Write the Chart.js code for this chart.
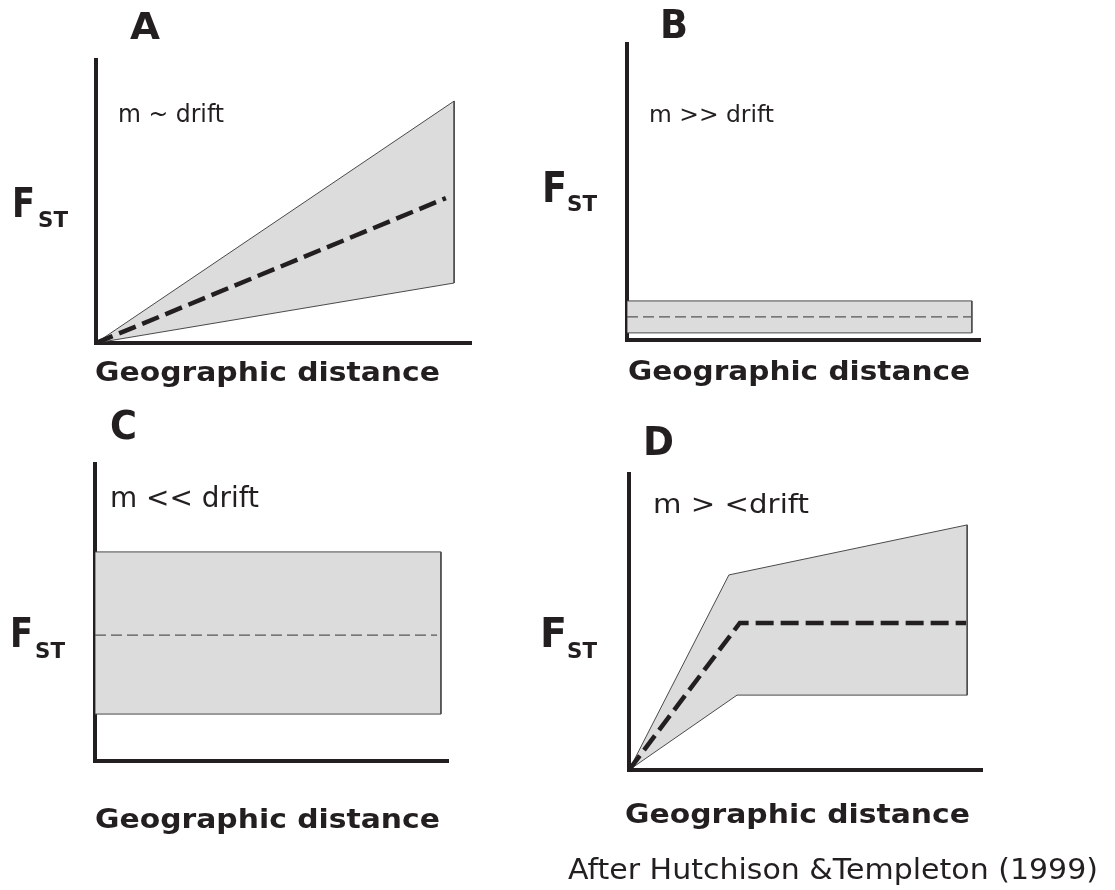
<!DOCTYPE html>
<html>
<head>
<meta charset="utf-8">
<script src="https://cdn.jsdelivr.net/npm/chart.js@4.4.1/dist/chart.umd.min.js"></script>
<style>
  html, body { margin: 0; padding: 0; background: #ffffff; }
  body { width: 1115px; height: 890px; position: relative; overflow: hidden; }
  canvas { position: absolute; left: 0; top: 0; }
  .lbl { position: absolute; white-space: nowrap; color: #231f20; transform-origin: 0 0; font-family: "DejaVu Sans", Verdana, sans-serif; }
</style>
</head>
<body>
<canvas id="cA" width="1115" height="890"></canvas>
<canvas id="cB" width="1115" height="890"></canvas>
<canvas id="cC" width="1115" height="890"></canvas>
<canvas id="cD" width="1115" height="890"></canvas>
<script>
// ---------- DATA (arbitrary units, 0-10 on both axes) ----------
const panelLetters = ['A', 'B', 'C', 'D'];
const conditions = ['m ~ drift', 'm >> drift', 'm << drift', 'm > <drift'];
const xAxisTitle = 'Geographic distance';
const yAxisTitle = ['F', 'ST'];
const credit = 'After Hutchison &Templeton (1999)';

// Panel A: m ~ drift
const A_upperDistance = [0, 9.55];
const A_upper         = [0, 8.55];
const A_lowerDistance = [0, 9.55];
const A_lower         = [0, 2.12];
const A_meanDistance  = [0, 9.33];
const A_mean          = [0, 5.12];

// Panel B: m >> drift
const B_upperDistance = [0, 9.77];
const B_upper         = [1.32, 1.32];
const B_lowerDistance = [0, 9.77];
const B_lower         = [0.24, 0.24];
const B_meanDistance  = [0, 9.77];
const B_mean          = [0.78, 0.78];

// Panel C: m << drift
const C_upperDistance = [0, 9.80];
const C_upper         = [7.04, 7.04];
const C_lowerDistance = [0, 9.80];
const C_lower         = [1.58, 1.58];
const C_meanDistance  = [0, 9.69];
const C_mean          = [4.24, 4.24];

// Panel D: m > < drift
const D_upperDistance = [0, 2.83, 9.58];
const D_upper         = [0, 6.59, 8.28];
const D_lowerDistance = [0, 3.06, 9.58];
const D_lower         = [0, 2.53, 2.53];
const D_meanDistance  = [0, 3.14, 9.55];
const D_mean          = [0, 4.97, 4.97];

// ---------- LAYOUT ----------
const PAGE_W = 1115, PAGE_H = 890;
const INK = '#231f20';

const panels = [
  { id: 'cA', area: { left: 96,  top: 60,  right: 471, bottom: 343 },
    ux: A_upperDistance, uy: A_upper, lx: A_lowerDistance, ly: A_lower, mx: A_meanDistance, my: A_mean, thick: true },
  { id: 'cB', area: { left: 627, top: 44,  right: 980, bottom: 340 },
    ux: B_upperDistance, uy: B_upper, lx: B_lowerDistance, ly: B_lower, mx: B_meanDistance, my: B_mean, thick: false },
  { id: 'cC', area: { left: 95,  top: 464, right: 448, bottom: 761 },
    ux: C_upperDistance, uy: C_upper, lx: C_lowerDistance, ly: C_lower, mx: C_meanDistance, my: C_mean, thick: false },
  { id: 'cD', area: { left: 629, top: 474, right: 982, bottom: 770 },
    ux: D_upperDistance, uy: D_upper, lx: D_lowerDistance, ly: D_lower, mx: D_meanDistance, my: D_mean, thick: true }
];

function zipPts(xs, ys) { return xs.map((x, i) => ({ x: x, y: ys[i] })); }

function axisOpts() {
  return {
    type: 'linear', min: 0, max: 10, z: 1,
    grid: { display: false, drawTicks: false },
    ticks: { display: false },
    border: { display: true, width: 4, color: INK }
  };
}

panels.forEach(p => {
  const upperPts = zipPts(p.ux, p.uy);
  const lowerPts = zipPts(p.lx, p.ly).reverse();
  const polygon = upperPts.concat(lowerPts, [upperPts[0]]);
  const meanPts = zipPts(p.mx, p.my);
  new Chart(document.getElementById(p.id), {
    type: 'line',
    data: {
      datasets: [
        {
          label: 'range', data: polygon, fill: 'shape',
          backgroundColor: '#dcdcdc', borderColor: '#4a4a4a', borderWidth: 1,
          pointRadius: 0, tension: 0, order: 2
        },
        {
          label: 'mean', data: meanPts, fill: false,
          borderColor: p.thick ? INK : '#555555',
          borderWidth: p.thick ? 4.5 : 1.2,
          borderDash: p.thick ? [18, 7] : [11, 5],
          borderCapStyle: 'butt',
          pointRadius: 0, tension: 0, order: 1
        }
      ]
    },
    options: {
      responsive: false, animation: false, events: [],
      layout: { padding: { left: p.area.left, top: p.area.top, right: PAGE_W - p.area.right, bottom: PAGE_H - p.area.bottom } },
      plugins: { legend: { display: false }, tooltip: { enabled: false }, title: { display: false } },
      scales: { x: axisOpts(), y: axisOpts() }
    }
  });
});

// ---------- TEXT ----------
// ref 'cap' = cap-height box, 'asc' = ascender box; top/bottom are glyph top and baseline
const textItems = [
  { text: panelLetters[0], x: 130, top: 12,  bottom: 39,  width: 30, bold: true, ref: 'cap' },
  { text: panelLetters[1], x: 660, top: 10,  bottom: 39,  width: 28, bold: true, ref: 'cap' },
  { text: panelLetters[2], x: 110, top: 411, bottom: 439, width: 27, bold: true, ref: 'cap' },
  { text: panelLetters[3], x: 643, top: 427, bottom: 455, width: 31, bold: true, ref: 'cap' },

  { text: conditions[0], x: 118, top: 103, bottom: 122, width: 106, bold: false, ref: 'asc' },
  { text: conditions[1], x: 649, top: 105, bottom: 123, width: 125, bold: false, ref: 'asc' },
  { text: conditions[2], x: 110, top: 486, bottom: 507, width: 149, bold: false, ref: 'asc' },
  { text: conditions[3], x: 653, top: 493, bottom: 513, width: 156, bold: false, ref: 'asc' },

  { text: xAxisTitle, x: 95,  top: 361, bottom: 381, width: 345, bold: true, ref: 'cap' },
  { text: xAxisTitle, x: 628, top: 361, bottom: 380, width: 342, bold: true, ref: 'cap' },
  { text: xAxisTitle, x: 95,  top: 808, bottom: 828, width: 345, bold: true, ref: 'cap' },
  { text: xAxisTitle, x: 625, top: 804, bottom: 823, width: 345, bold: true, ref: 'cap' },

  { text: yAxisTitle[0], x: 12,  top: 188, bottom: 218, width: 23, bold: true, ref: 'cap' },
  { text: yAxisTitle[1], x: 38,  top: 212, bottom: 227, width: 30, bold: true, ref: 'cap' },
  { text: yAxisTitle[0], x: 542, top: 172, bottom: 203, width: 25, bold: true, ref: 'cap' },
  { text: yAxisTitle[1], x: 567, top: 196, bottom: 212, width: 30, bold: true, ref: 'cap' },
  { text: yAxisTitle[0], x: 10,  top: 618, bottom: 648, width: 23, bold: true, ref: 'cap' },
  { text: yAxisTitle[1], x: 35,  top: 643, bottom: 658, width: 30, bold: true, ref: 'cap' },
  { text: yAxisTitle[0], x: 540, top: 618, bottom: 648, width: 27, bold: true, ref: 'cap' },
  { text: yAxisTitle[1], x: 567, top: 643, bottom: 658, width: 30, bold: true, ref: 'cap' },

  { text: credit, x: 568, top: 858, bottom: 879, width: 530, bold: false, ref: 'cap' }
];

const BASELINE = 0.846; // DejaVu Sans baseline offset with line-height = 1em
textItems.forEach(it => {
  const ratio = it.ref === 'asc' ? 0.76 : 0.729;
  const fs = (it.bottom - it.top) / ratio;
  const el = document.createElement('div');
  el.className = 'lbl';
  el.textContent = it.text;
  el.style.fontSize = fs + 'px';
  el.style.fontWeight = it.bold ? 'bold' : 'normal';
  el.style.lineHeight = fs + 'px';
  el.style.left = it.x + 'px';
  el.style.top = (it.top - (BASELINE - ratio) * fs) + 'px';
  document.body.appendChild(el);
  const w = el.getBoundingClientRect().width;
  el.style.transform = 'scaleX(' + (it.width / w) + ')';
});
</script>
</body>
</html>
